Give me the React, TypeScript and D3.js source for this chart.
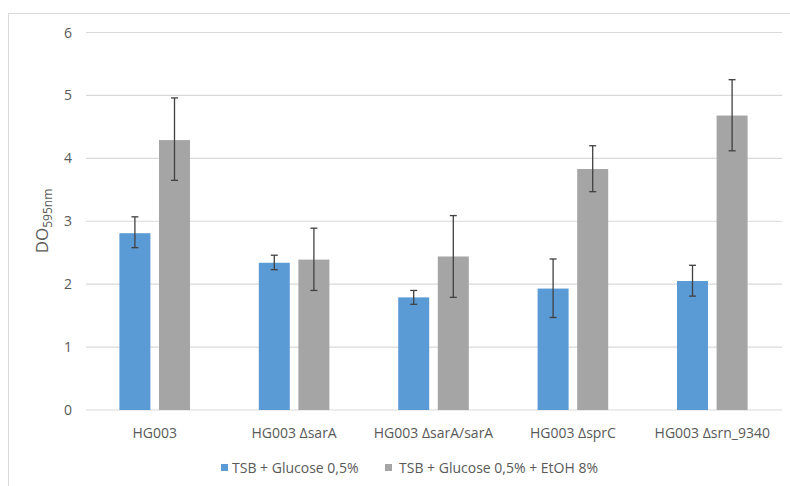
import React from "react";
import * as d3 from "d3";

const categories = ["HG003", "HG003 ΔsarA", "HG003 ΔsarA/sarA", "HG003 ΔsprC", "HG003 Δsrn_9340"];
const seriesNames = ["TSB + Glucose 0,5%", "TSB + Glucose 0,5% + EtOH 8%"];
const glucose = [2.81, 2.34, 1.79, 1.93, 2.05];
const glucoseErrLow = [2.58, 2.23, 1.68, 1.47, 1.81];
const glucoseErrHigh = [3.07, 2.46, 1.90, 2.40, 2.30];
const ethanol = [4.29, 2.39, 2.44, 3.83, 4.68];
const ethanolErrLow = [3.65, 1.90, 1.79, 3.47, 4.12];
const ethanolErrHigh = [4.96, 2.89, 3.09, 4.20, 5.25];
const yTicks = [0, 1, 2, 3, 4, 5, 6];
const colors = ["#5B9BD5", "#A5A5A5"];

const W = 790;
const H = 486;

export default function App() {
  const x0 = d3.scaleBand<string>().domain(categories).range([85, 782]).paddingInner(0).paddingOuter(0);
  const y = d3.scaleLinear().domain([0, 6]).range([410, 32.5]);
  const barW = 31;
  const gap = 8.6;
  const series = [
    { name: seriesNames[0], vals: glucose, lo: glucoseErrLow, hi: glucoseErrHigh },
    { name: seriesNames[1], vals: ethanol, lo: ethanolErrLow, hi: ethanolErrHigh },
  ];
  const font = "'Open Sans', 'Liberation Sans', sans-serif";
  const textCol = "#595959";
  return (
    <svg width={W} height={H} style={{ position: "absolute", left: 0, top: 0 }}>
      <rect x={0} y={0} width={W} height={H} fill="#fff" />
      <line x1={8.5} y1={13.5} x2={W} y2={13.5} stroke="#D9D9D9" />
      <line x1={8.5} y1={13.5} x2={8.5} y2={H} stroke="#D9D9D9" />
      {yTicks.map((t) => (
        <g key={t}>
          <line x1={86} x2={782} y1={y(t)} y2={y(t)} stroke="#D9D9D9" strokeWidth={1.2} />
          <text x={72} y={y(t) + 5} textAnchor="end" fontFamily={font} fontSize={14} fill={textCol}>
            {t}
          </text>
        </g>
      ))}
      {categories.map((c, i) => {
        const cx = (x0(c) as number) + x0.bandwidth() / 2;
        return (
          <g key={c}>
            {series.map((s, j) => {
              const bx = cx - gap / 2 - barW + j * (barW + gap);
              const mid = bx + barW / 2;
              return (
                <g key={j}>
                  <rect x={bx} y={y(s.vals[i])} width={barW} height={y(0) - y(s.vals[i])} fill={colors[j]} />
                  <line x1={mid} x2={mid} y1={y(s.hi[i])} y2={y(s.lo[i])} stroke="#404040" strokeWidth={1.3} />
                  <line x1={mid - 3.5} x2={mid + 3.5} y1={y(s.hi[i])} y2={y(s.hi[i])} stroke="#404040" strokeWidth={1.3} />
                  <line x1={mid - 3.5} x2={mid + 3.5} y1={y(s.lo[i])} y2={y(s.lo[i])} stroke="#404040" strokeWidth={1.3} />
                </g>
              );
            })}
            <text x={cx} y={438} textAnchor="middle" fontFamily={font} fontSize={14} fill={textCol}>
              {c}
            </text>
          </g>
        );
      })}
      <text transform="translate(48,221) rotate(-90)" textAnchor="middle" fontFamily={font} fill={textCol}>
        <tspan fontSize={17}>DO</tspan>
        <tspan fontSize={12} dy={4}>595nm</tspan>
      </text>
      <g>
        <rect x={221} y={464} width={7} height={7} fill={colors[0]} />
        <text x={232} y={473} fontFamily={font} fontSize={14} fill={textCol}>{seriesNames[0]}</text>
        <rect x={385} y={464} width={7} height={7} fill={colors[1]} />
        <text x={399} y={473} fontFamily={font} fontSize={14} fill={textCol}>{seriesNames[1]}</text>
      </g>
    </svg>
  );
}
